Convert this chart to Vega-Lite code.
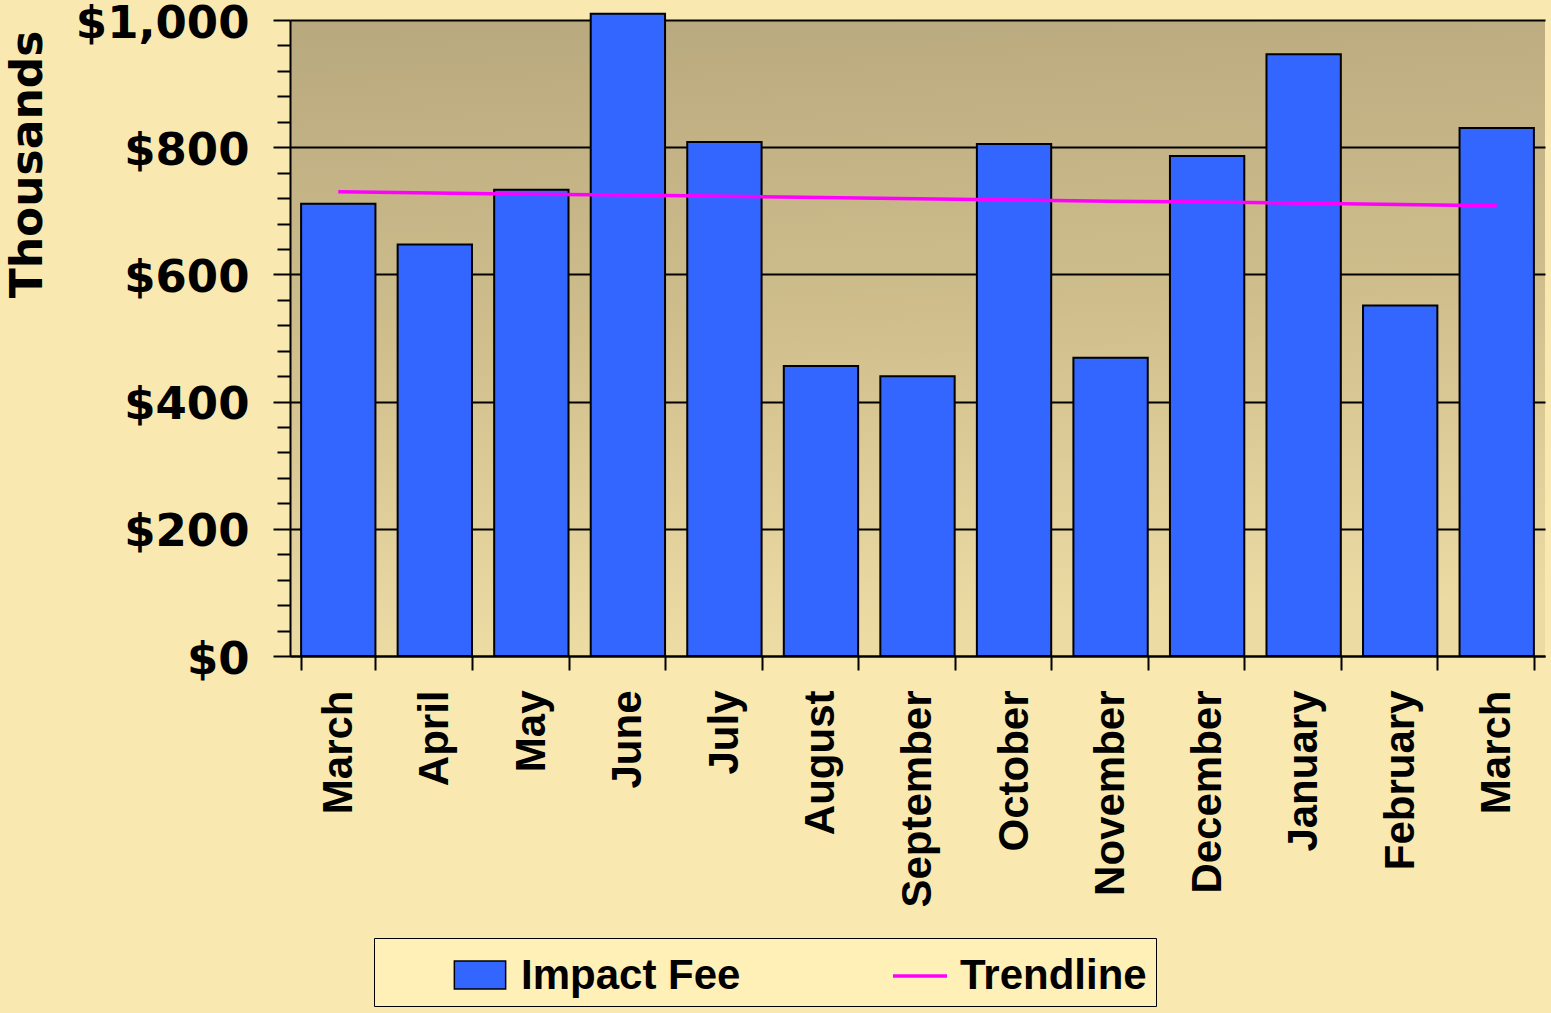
{
  "$schema": "https://vega.github.io/schema/vega-lite/v6.json",
  "width": 1255,
  "height": 636,
  "autosize": "none",
  "padding": {"left": 290, "top": 20, "right": 6, "bottom": 357},
  "background": "#f9e9b1",
  "config": {
    "view": {
      "stroke": null,
      "fill": {
        "gradient": "linear",
        "x1": 0, "y1": 0, "x2": 0.1, "y2": 1,
        "stops": [
          {"offset": 0, "color": "#b8a87e"},
          {"offset": 0.5, "color": "#cfbe8c"},
          {"offset": 1, "color": "#ecdba3"}
        ]
      }
    },
    "axis": {"domainColor": "black", "tickColor": "black", "labelColor": "black", "titleColor": "black"}
  },
  "data": {
    "values": [
      {"month": "2007-03-15", "fee": 711, "trend": 730},
      {"month": "2007-04-15", "fee": 647, "trend": 728},
      {"month": "2007-05-15", "fee": 733, "trend": 726},
      {"month": "2007-06-15", "fee": 1010, "trend": 725},
      {"month": "2007-07-15", "fee": 808, "trend": 723},
      {"month": "2007-08-15", "fee": 456, "trend": 721},
      {"month": "2007-09-15", "fee": 440, "trend": 719},
      {"month": "2007-10-15", "fee": 805, "trend": 717},
      {"month": "2007-11-15", "fee": 469, "trend": 715},
      {"month": "2007-12-15", "fee": 786, "trend": 714},
      {"month": "2008-01-15", "fee": 946, "trend": 712},
      {"month": "2008-02-15", "fee": 551, "trend": 710},
      {"month": "2008-03-15", "fee": 830, "trend": 708}
    ]
  },
  "layer": [
    {
      "mark": {"type": "bar", "stroke": "black", "strokeWidth": 2, "clip": false},
      "encoding": {
        "x": {
          "field": "month", "timeUnit": "yearmonth", "type": "ordinal",
          "scale": {"paddingInner": 0.23, "paddingOuter": 0.115},
          "axis": {
            "title": null, "format": "%B", "labelAngle": -90,
            "labelFont": "Liberation Sans", "labelFontSize": 42, "labelFontWeight": "bold",
            "labelLimit": 500,
            "tickBand": "extent", "tickSize": 14, "tickWidth": 2, "domainWidth": 2,
            "labelPadding": 20, "grid": false
          }
        },
        "y": {
          "field": "fee", "type": "quantitative",
          "scale": {"domain": [0, 1000], "nice": false},
          "axis": {
            "title": "Thousands",
            "values": [0, 40, 80, 120, 160, 200, 240, 280, 320, 360, 400, 440, 480, 520, 560, 600, 640, 680, 720, 760, 800, 840, 880, 920, 960, 1000],
            "tickCount": 40,
            "labelExpr": "datum.value % 200 === 0 ? '$' + format(datum.value, ',') : ''",
            "labelFont": "DejaVu Sans", "labelFontSize": 45, "labelFontWeight": "bold",
            "labelPadding": 24, "labelOverlap": false, "labelLimit": 400, "labelOffset": 3,
            "tickSize": {"condition": {"test": "datum.value % 200 === 0", "value": 17}, "value": 13},
            "tickWidth": 2, "domainWidth": 2,
            "grid": true, "gridColor": "black", "gridWidth": 2,
            "gridOpacity": {"condition": {"test": "datum.value % 200 === 0", "value": 1}, "value": 0},
            "titleFont": "DejaVu Sans", "titleFontSize": 44, "titleFontWeight": "bold",
            "titleAngle": -90, "titleAlign": "right", "titleBaseline": "top",
            "titleX": -284, "titleY": 10
          }
        },
        "fill": {
          "datum": "Impact Fee", "type": "nominal",
          "scale": {"domain": ["Impact Fee"], "range": ["#3366ff"]},
          "legend": {
            "title": null, "orient": "none", "direction": "horizontal",
            "legendX": 84, "legendY": 918, "zindex": 2,
            "padding": 9, "symbolSize": 2916, "symbolOffset": 69, "labelOffset": 11,
            "symbolType": "M-0.95,-0.52H0.95V0.52H-0.95Z",
            "symbolStrokeWidth": 1.5, "symbolOpacity": 1,
            "labelExpr": "''", "labelFontSize": 42
          }
        }
      }
    },
    {
      "mark": {"type": "line", "strokeWidth": 3.5},
      "encoding": {
        "x": {"field": "month", "timeUnit": "yearmonth", "type": "ordinal"},
        "y": {"field": "trend", "type": "quantitative"},
        "stroke": {
          "datum": "Trendline", "type": "nominal",
          "scale": {"domain": ["Impact Fee", "Trendline"], "range": ["rgba(0,0,0,0)", "#ff00ff"]},
          "legend": {
            "title": null, "orient": "none", "direction": "horizontal",
            "legendX": 84, "legendY": 918, "zindex": 1,
            "fillColor": "#fff0b8", "strokeColor": "black", "padding": 9,
            "symbolSize": 2916, "symbolOffset": 69, "labelOffset": 11,
            "symbolType": "stroke", "symbolStrokeWidth": 3.5, "symbolOpacity": 1,
            "columnPadding": 81,
            "labelFont": "Liberation Sans", "labelFontSize": 42, "labelFontWeight": "bold",
            "labelColor": "black", "labelLimit": 400
          }
        }
      }
    }
  ]
}
